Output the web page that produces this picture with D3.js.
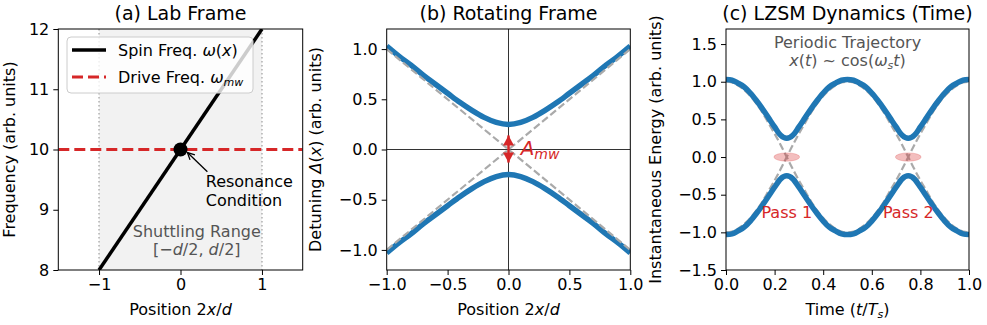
<!DOCTYPE html>
<html>
<head>
<meta charset="utf-8">
<script src="https://cdn.jsdelivr.net/npm/d3@7"></script>
<style>
	body { margin: 0; background: #fff; }
	svg { font-family: 'DejaVu Sans', sans-serif; }
</style>
</head>
<body>
<div class="chart"></div>
<script>
// (a) lab frame
const labPosition = [-1, 1]
const spinFreq = [8, 12]
const driveFreq = 10
const shuttleRange = [-1, 1]
const labXTicks = [-1, 0, 1]
const labYTicks = [8, 9, 10, 11, 12]

// (b) rotating frame
const detPosition = [-1.0, -0.9, -0.8, -0.7, -0.6, -0.5, -0.4, -0.3, -0.2, -0.1, 0.0,
	0.1, 0.2, 0.3, 0.4, 0.5, 0.6, 0.7, 0.8, 0.9, 1.0]
const detUpper = [1.03, 0.93, 0.84, 0.74, 0.65, 0.56, 0.47, 0.39, 0.32, 0.27, 0.25,
	0.27, 0.32, 0.39, 0.47, 0.56, 0.65, 0.74, 0.84, 0.93, 1.03]
const detLower = [-1.03, -0.93, -0.84, -0.74, -0.65, -0.56, -0.47, -0.39, -0.32, -0.27, -0.25,
	-0.27, -0.32, -0.39, -0.47, -0.56, -0.65, -0.74, -0.84, -0.93, -1.03]
const diabaticPos = [-1, 1]
const diabaticRise = [-1, 1]
const diabaticFall = [1, -1]
const gapArrow = [0.22, -0.21]
const rotTicks = [-1, -0.5, 0, 0.5, 1]

// (c) LZSM dynamics over one period
const time = [0.000, 0.025, 0.050, 0.075, 0.100, 0.125, 0.150, 0.175, 0.200, 0.225, 0.250,
	0.275, 0.300, 0.325, 0.350, 0.375, 0.400, 0.425, 0.450, 0.475, 0.500,
	0.525, 0.550, 0.575, 0.600, 0.625, 0.650, 0.675, 0.700, 0.725, 0.750,
	0.775, 0.800, 0.825, 0.850, 0.875, 0.900, 0.925, 0.950, 0.975, 1.000]
const energyUpper = [1.03, 1.02, 0.98, 0.93, 0.85, 0.75, 0.64, 0.52, 0.40, 0.29, 0.25,
	0.29, 0.40, 0.52, 0.64, 0.75, 0.85, 0.93, 0.98, 1.02, 1.03,
	1.02, 0.98, 0.93, 0.85, 0.75, 0.64, 0.52, 0.40, 0.29, 0.25,
	0.29, 0.40, 0.52, 0.64, 0.75, 0.85, 0.93, 0.98, 1.02, 1.03]
const energyLower = [-1.03, -1.02, -0.98, -0.93, -0.85, -0.75, -0.64, -0.52, -0.40, -0.29, -0.25,
	-0.29, -0.40, -0.52, -0.64, -0.75, -0.85, -0.93, -0.98, -1.02, -1.03,
	-1.02, -0.98, -0.93, -0.85, -0.75, -0.64, -0.52, -0.40, -0.29, -0.25,
	-0.29, -0.40, -0.52, -0.64, -0.75, -0.85, -0.93, -0.98, -1.02, -1.03]
const trajUp = [1.00, 0.99, 0.95, 0.89, 0.81, 0.71, 0.59, 0.45, 0.31, 0.16, 0.00,
	-0.16, -0.31, -0.45, -0.59, -0.71, -0.81, -0.89, -0.95, -0.99, -1.00,
	-0.99, -0.95, -0.89, -0.81, -0.71, -0.59, -0.45, -0.31, -0.16, 0.00,
	0.16, 0.31, 0.45, 0.59, 0.71, 0.81, 0.89, 0.95, 0.99, 1.00]
const trajDown = [-1.00, -0.99, -0.95, -0.89, -0.81, -0.71, -0.59, -0.45, -0.31, -0.16, 0.00,
	0.16, 0.31, 0.45, 0.59, 0.71, 0.81, 0.89, 0.95, 0.99, 1.00,
	0.99, 0.95, 0.89, 0.81, 0.71, 0.59, 0.45, 0.31, 0.16, 0.00,
	-0.16, -0.31, -0.45, -0.59, -0.71, -0.81, -0.89, -0.95, -0.99, -1.00]
const passTimes = [0.25, 0.75]
const passLabels = ['Pass 1', 'Pass 2']
const dynXTicks = [0, 0.2, 0.4, 0.6, 0.8, 1]
const dynYTicks = [-1.5, -1, -0.5, 0, 0.5, 1, 1.5]

const red = '#d62728'
const blue = '#1f77b4'
const dashGray = '#aaaaaa'
const plotTop = 29, plotBottom = 270

const svg = d3.select('.chart')
	.append('svg')
	.attr('width', 987)
	.attr('height', 325)

const defs = svg.append('defs')
defs.append('marker')
	.attr('id', 'openhead')
	.attr('viewBox', '-10 -6 12 12')
	.attr('refX', 0).attr('refY', 0)
	.attr('markerWidth', 12).attr('markerHeight', 12)
	.attr('markerUnits', 'userSpaceOnUse')
	.attr('orient', 'auto')
	.append('path')
	.attr('d', 'M-7,-3.5L0,0L-7,3.5')
	.attr('fill', 'none')
	.attr('stroke', 'black')
	.attr('stroke-width', 1.3)
defs.append('marker')
	.attr('id', 'redhead')
	.attr('viewBox', '-12 -7 14 14')
	.attr('refX', 0).attr('refY', 0)
	.attr('markerWidth', 14).attr('markerHeight', 14)
	.attr('markerUnits', 'userSpaceOnUse')
	.attr('orient', 'auto-start-reverse')
	.append('path')
	.attr('d', 'M-10,-5.5L0,0L-10,5.5Z')
	.attr('fill', red)

// one panel: clip, scales, axes, labels
function panel(id, left, right, xDomain, yDomain, xTicks, yTicks, fmt, title, xLabel, yLabel, yLabelX) {
	const x = d3.scaleLinear().domain(xDomain).range([left, right])
	const y = d3.scaleLinear().domain(yDomain).range([plotBottom, plotTop])

	defs.append('clipPath').attr('id', id)
		.append('rect')
		.attr('x', left).attr('y', plotTop)
		.attr('width', right - left).attr('height', plotBottom - plotTop)

	const plot = svg.append('g').attr('clip-path', `url(#${id})`)

	const xAxis = svg.append('g')
		.attr('transform', `translate(0, ${plotBottom})`)
		.call(d3.axisBottom(x).tickValues(xTicks).tickFormat(fmt).tickSize(5).tickPadding(4))
	const yAxis = svg.append('g')
		.attr('transform', `translate(${left}, 0)`)
		.call(d3.axisLeft(y).tickValues(yTicks).tickFormat(fmt).tickSize(5).tickPadding(4))
	;[xAxis, yAxis].forEach(ax => {
		ax.select('.domain').remove()
		ax.selectAll('text').attr('font-size', '16px').attr('font-family', 'DejaVu Sans').attr('fill', 'black')
		ax.selectAll('line').attr('stroke', 'black').attr('stroke-width', 1)
	})

	svg.append('text')
		.attr('x', (left + right) / 2)
		.attr('y', 20)
		.attr('text-anchor', 'middle')
		.attr('font-size', '19px')
		.text(title)

	const xl = svg.append('text')
		.attr('x', (left + right) / 2)
		.attr('y', 315)
		.attr('text-anchor', 'middle')
		.attr('font-size', '16px')
	xLabel(xl)

	const yl = svg.append('text')
		.attr('transform', `translate(${yLabelX}, ${(plotTop + plotBottom) / 2}) rotate(-90)`)
		.attr('text-anchor', 'middle')
		.attr('font-size', '16px')
	yLabel(yl)

	return {x, y, plot}
}

function frame(p) {
	const [l, r] = p.x.range()
	svg.append('rect')
		.attr('x', l).attr('y', plotTop)
		.attr('width', r - l).attr('height', plotBottom - plotTop)
		.attr('fill', 'none')
		.attr('stroke', 'black')
		.attr('stroke-width', 1)
}

function positionLabel(t) {
	t.append('tspan').text('Position 2')
	t.append('tspan').attr('font-style', 'italic').text('x')
	t.append('tspan').text('/')
	t.append('tspan').attr('font-style', 'italic').text('d')
}

// ---------- (a) Lab Frame ----------
const a = panel('clipA', 58.3, 302.7, [-1.5, 1.5], [8, 12], labXTicks, labYTicks, d3.format('d'),
	'(a) Lab Frame', positionLabel,
	t => t.text('Frequency (arb. units)'), 14.5)

a.plot.append('rect')
	.attr('x', a.x(shuttleRange[0]))
	.attr('y', plotTop)
	.attr('width', a.x(shuttleRange[1]) - a.x(shuttleRange[0]))
	.attr('height', plotBottom - plotTop)
	.attr('fill', '#f2f2f2')

a.plot.selectAll('.edge')
	.data(shuttleRange)
	.enter()
	.append('line')
	.attr('x1', d => a.x(d)).attr('x2', d => a.x(d))
	.attr('y1', plotTop).attr('y2', plotBottom)
	.attr('stroke', '#b0b0b0')
	.attr('stroke-width', 1.5)
	.attr('stroke-dasharray', '1.5,2.5')

a.plot.append('path')
	.datum(labPosition.map((p, i) => [p, spinFreq[i]]))
	.attr('d', d3.line().x(d => a.x(d[0])).y(d => a.y(d[1])))
	.attr('stroke', 'black')
	.attr('stroke-width', 3.5)
	.attr('fill', 'none')

a.plot.append('line')
	.attr('x1', a.x(-1.5)).attr('x2', a.x(1.5))
	.attr('y1', a.y(driveFreq)).attr('y2', a.y(driveFreq))
	.attr('stroke', red)
	.attr('stroke-width', 3)
	.attr('stroke-dasharray', '11,5')

a.plot.append('circle')
	.attr('cx', a.x(0))
	.attr('cy', a.y(driveFreq))
	.attr('r', 7)
	.attr('fill', 'black')

// resonance annotation
svg.append('line')
	.attr('x1', a.x(0.33)).attr('y1', a.y(9.63))
	.attr('x2', a.x(0.085)).attr('y2', a.y(9.95))
	.attr('stroke', 'black')
	.attr('stroke-width', 1.3)
	.attr('marker-end', 'url(#openhead)')
svg.append('text')
	.attr('x', a.x(0.31))
	.attr('y', a.y(9.38))
	.attr('font-size', '16px')
	.text('Resonance')
svg.append('text')
	.attr('x', a.x(0.31))
	.attr('y', a.y(9.38) + 19)
	.attr('font-size', '16px')
	.text('Condition')

// shuttling range label
svg.append('text')
	.attr('x', a.x(0.2))
	.attr('y', a.y(8.55))
	.attr('text-anchor', 'middle')
	.attr('font-size', '16px')
	.attr('fill', '#555')
	.text('Shuttling Range')
const sr = svg.append('text')
	.attr('x', a.x(0.2))
	.attr('y', a.y(8.55) + 18)
	.attr('text-anchor', 'middle')
	.attr('font-size', '16px')
	.attr('fill', '#555')
sr.append('tspan').text('[−')
sr.append('tspan').attr('font-style', 'italic').text('d')
sr.append('tspan').text('/2, ')
sr.append('tspan').attr('font-style', 'italic').text('d')
sr.append('tspan').text('/2]')

// legend
const legend = svg.append('g')
legend.append('rect')
	.attr('x', 67).attr('y', 37)
	.attr('width', 186).attr('height', 56)
	.attr('rx', 4)
	.attr('fill', 'white')
	.attr('fill-opacity', 0.8)
	.attr('stroke', '#cccccc')
legend.append('line')
	.attr('x1', 72).attr('x2', 106).attr('y1', 50).attr('y2', 50)
	.attr('stroke', 'black').attr('stroke-width', 3.5)
legend.append('line')
	.attr('x1', 72).attr('x2', 106).attr('y1', 77).attr('y2', 77)
	.attr('stroke', red).attr('stroke-width', 3)
	.attr('stroke-dasharray', '11,5')
const l1 = legend.append('text').attr('x', 118).attr('y', 56).attr('font-size', '16px')
l1.append('tspan').text('Spin Freq. ')
l1.append('tspan').attr('font-style', 'italic').text('ω')
l1.append('tspan').text('(')
l1.append('tspan').attr('font-style', 'italic').text('x')
l1.append('tspan').text(')')
const l2 = legend.append('text').attr('x', 118).attr('y', 83).attr('font-size', '16px')
l2.append('tspan').text('Drive Freq. ')
l2.append('tspan').attr('font-style', 'italic').text('ω')
l2.append('tspan').attr('font-style', 'italic').attr('font-size', '11px').attr('dy', 3).text('mw')
frame(a)

// ---------- (b) Rotating Frame ----------
const b = panel('clipB', 386.7, 630.3, [-1, 1], [-1.2, 1.2], rotTicks, rotTicks, d3.format('.1f'),
	'(b) Rotating Frame', positionLabel,
	t => {
		t.append('tspan').text('Detuning ')
		t.append('tspan').attr('font-style', 'italic').text('Δ')
		t.append('tspan').text('(')
		t.append('tspan').attr('font-style', 'italic').text('x')
		t.append('tspan').text(') (arb. units)')
	}, 321)

b.plot.append('line')
	.attr('x1', b.x(0)).attr('x2', b.x(0))
	.attr('y1', plotTop).attr('y2', plotBottom)
	.attr('stroke', '#333').attr('stroke-width', 1)
b.plot.append('line')
	.attr('x1', b.x(-1)).attr('x2', b.x(1))
	.attr('y1', b.y(0)).attr('y2', b.y(0))
	.attr('stroke', '#333').attr('stroke-width', 1)

const bLine = d3.line().x(d => b.x(d[0])).y(d => b.y(d[1])).curve(d3.curveMonotoneX)
;[detUpper, detLower].forEach(s => {
	b.plot.append('path')
		.datum(detPosition.map((p, i) => [p, s[i]]))
		.attr('d', bLine)
		.attr('stroke', blue)
		.attr('stroke-width', 5.5)
		.attr('fill', 'none')
})
;[diabaticRise, diabaticFall].forEach(s => {
	b.plot.append('path')
		.datum(diabaticPos.map((p, i) => [p, s[i]]))
		.attr('d', bLine)
		.attr('stroke', dashGray)
		.attr('stroke-width', 2.2)
		.attr('stroke-dasharray', '7.4,3.2')
		.attr('fill', 'none')
})

svg.append('line')
	.attr('x1', b.x(0)).attr('x2', b.x(0))
	.attr('y1', b.y(gapArrow[0]) + 8).attr('y2', b.y(gapArrow[1]) - 8)
	.attr('stroke', red)
	.attr('stroke-width', 2.5)
	.attr('marker-start', 'url(#redhead)')
	.attr('marker-end', 'url(#redhead)')

const amw = svg.append('text')
	.attr('x', b.x(0.1))
	.attr('y', b.y(-0.05))
	.attr('font-size', '20px')
	.attr('fill', red)
amw.append('tspan').attr('font-style', 'italic').text('A')
amw.append('tspan').attr('font-style', 'italic').attr('font-size', '14px').attr('dy', 4).text('mw')
frame(b)

// ---------- (c) LZSM Dynamics ----------
const c = panel('clipC', 726, 969, [0, 1], [-1.5, 1.7], dynXTicks, dynYTicks, d3.format('.1f'),
	'(c) LZSM Dynamics (Time)',
	t => {
		t.append('tspan').text('Time (')
		t.append('tspan').attr('font-style', 'italic').text('t')
		t.append('tspan').text('/')
		t.append('tspan').attr('font-style', 'italic').text('T')
		t.append('tspan').attr('font-style', 'italic').attr('font-size', '11px').attr('dy', 3).text('s')
		t.append('tspan').attr('dy', -3).text(')')
	},
	t => t.text('Instantaneous Energy (arb. units)'), 661)

const cLine = d3.line().x(d => c.x(d[0])).y(d => c.y(d[1])).curve(d3.curveMonotoneX)
;[trajUp, trajDown].forEach(s => {
	c.plot.append('path')
		.datum(time.map((t, i) => [t, s[i]]))
		.attr('d', cLine)
		.attr('stroke', dashGray)
		.attr('stroke-width', 2.2)
		.attr('stroke-dasharray', '7.4,3.2')
		.attr('fill', 'none')
})
;[energyUpper, energyLower].forEach(s => {
	c.plot.append('path')
		.datum(time.map((t, i) => [t, s[i]]))
		.attr('d', cLine)
		.attr('stroke', blue)
		.attr('stroke-width', 5.5)
		.attr('fill', 'none')
})

c.plot.selectAll('ellipse')
	.data(passTimes)
	.enter()
	.append('ellipse')
	.attr('cx', d => c.x(d))
	.attr('cy', c.y(0))
	.attr('rx', c.x(0.053) - c.x(0))
	.attr('ry', c.y(0) - c.y(0.055))
	.attr('fill', red)
	.attr('fill-opacity', 0.3)
	.attr('stroke', red)
	.attr('stroke-opacity', 0.2)

svg.selectAll('.pass')
	.data(passTimes)
	.enter()
	.append('text')
	.attr('x', d => c.x(d))
	.attr('y', c.y(-0.81))
	.attr('text-anchor', 'middle')
	.attr('font-size', '16px')
	.attr('fill', red)
	.text((d, i) => passLabels[i])

svg.append('text')
	.attr('x', c.x(0.5))
	.attr('y', 48)
	.attr('text-anchor', 'middle')
	.attr('font-size', '16px')
	.attr('fill', '#555')
	.text('Periodic Trajectory')
const pt = svg.append('text')
	.attr('x', c.x(0.5))
	.attr('y', 66)
	.attr('text-anchor', 'middle')
	.attr('font-size', '16px')
	.attr('fill', '#555')
pt.append('tspan').attr('font-style', 'italic').text('x')
pt.append('tspan').text('(')
pt.append('tspan').attr('font-style', 'italic').text('t')
pt.append('tspan').text(') ~ cos(')
pt.append('tspan').attr('font-style', 'italic').text('ω')
pt.append('tspan').attr('font-style', 'italic').attr('font-size', '11px').attr('dy', 3).text('s')
pt.append('tspan').attr('font-style', 'italic').attr('dy', -3).text('t')
pt.append('tspan').text(')')
frame(c)
</script>
</body>
</html>
